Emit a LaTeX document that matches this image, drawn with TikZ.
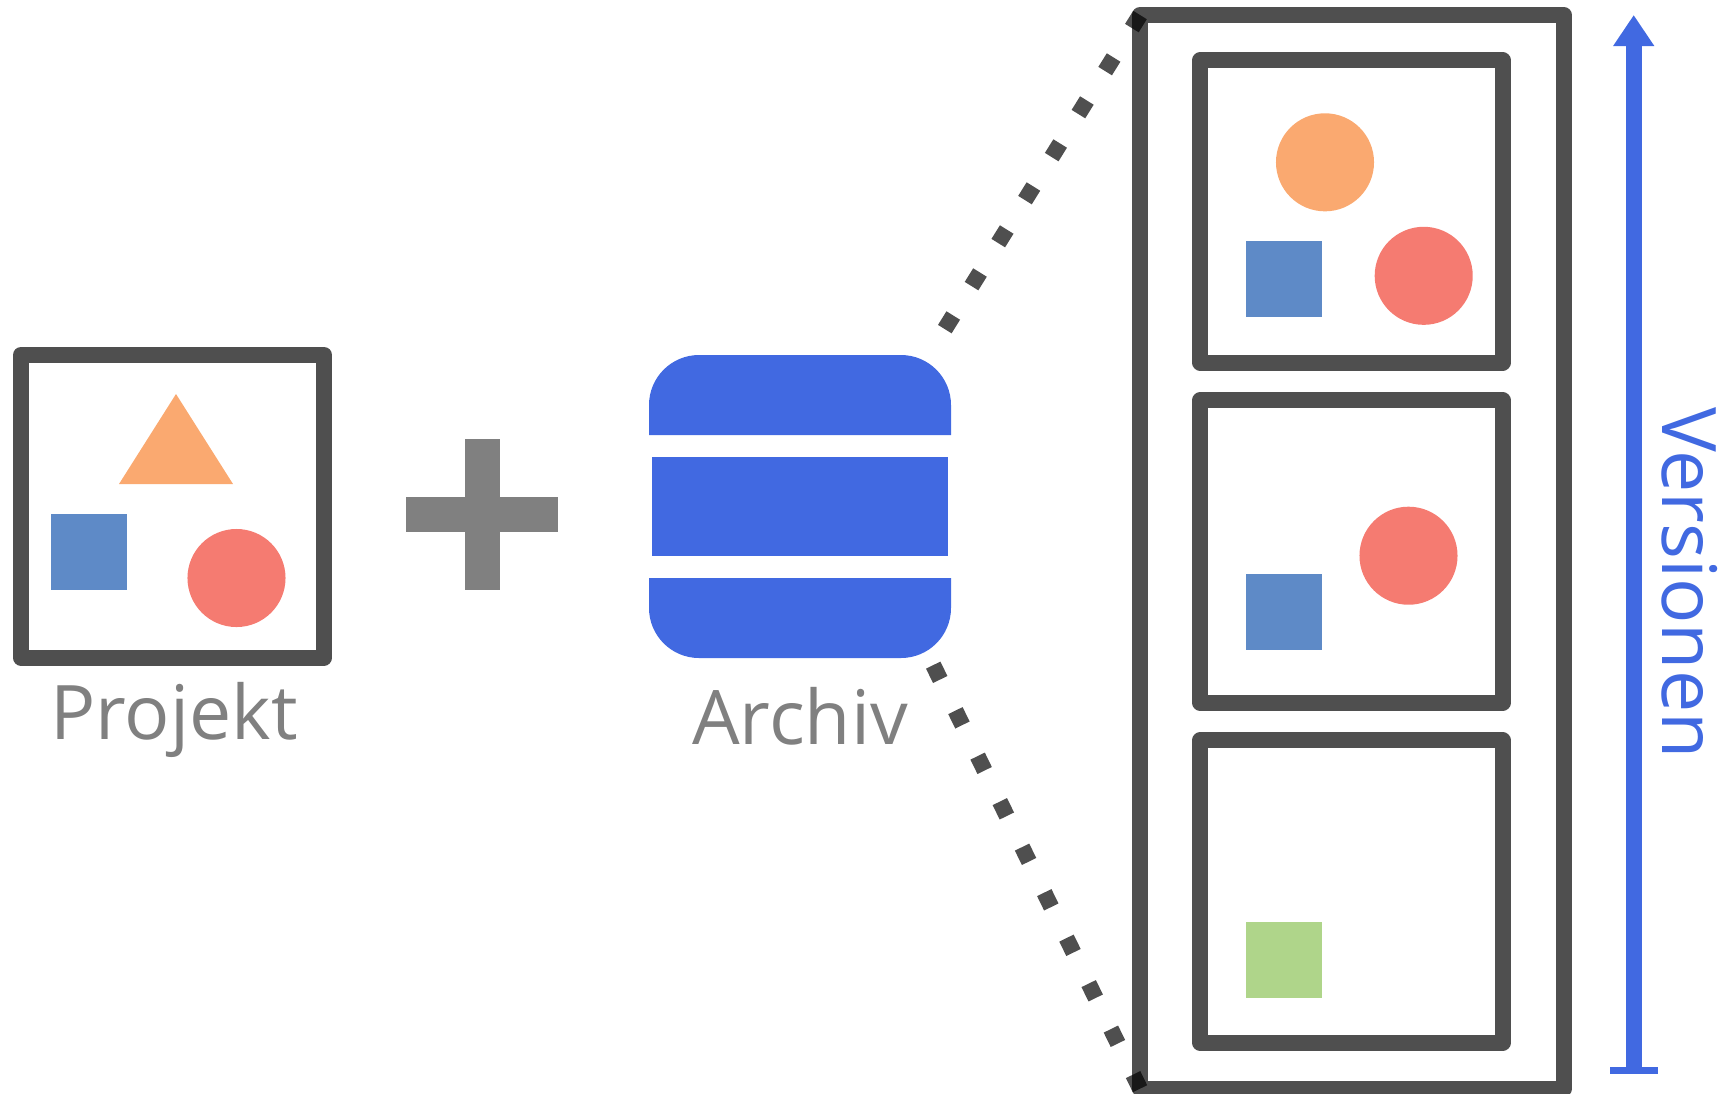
\documentclass[tikz,border=0pt]{standalone}
\usepackage{fontspec}
\usepackage{xcolor}
\usepackage{tikz}
\usetikzlibrary{arrows.meta}
\setmainfont{Open Sans}
\definecolor{archivblue}{HTML}{4169E1}
\definecolor{labelgray}{HTML}{808080}
\definecolor{shapeorange}{HTML}{FAA970}
\definecolor{shapeblue}{HTML}{5E8AC7}
\definecolor{shapered}{HTML}{F57B71}
\definecolor{shapegreen}{HTML}{AFD58A}
\tikzset{
  frame/.style={draw=black, draw opacity=.69, line width=.16cm, line join=round},
  dotline/.style={draw=black, draw opacity=.69, line width=.16cm, dash pattern=on .16cm off .346cm},
  label/.style={anchor=base, inner sep=0pt, font=\fontsize{21.4pt}{24pt}\selectfont},
}
\begin{document}
\begin{tikzpicture}[x=.01cm, y=-.01cm]
  \useasboundingbox (0,0) rectangle (1733,1093);
  % Projekt
  \draw[frame] (21,355) rectangle (324,657.5);
  \fill[shapeorange] (176,394) -- (233,484) -- (119,484) -- cycle;
  \fill[shapeblue] (51,514) rectangle (127,590);
  \fill[shapered] (236.5,578) circle (.49cm);
  \node[label, text=labelgray] (projekt) at (174,739) {Projekt};
  % plus
  \fill[labelgray] (406,497) rectangle (558,532);
  \fill[labelgray] (464.7,438.7) rectangle (500,590.3);
  % Archiv
  \fill[archivblue] (649,435) [rounded corners=.5cm] -- (649,355) -- (951,355) [sharp corners] -- (951,435) -- cycle;
  \fill[archivblue] (652,457) rectangle (948,556);
  \fill[archivblue] (649,578) [rounded corners=.5cm] -- (649,658) -- (951,658) [sharp corners] -- (951,578) -- cycle;
  \node[label, text=labelgray] (archiv) at (800,744) {Archiv};
  % Versionen
  \coordinate (archivtop) at (944.8,329.1);
  \coordinate (archivbot) at (933.2,665.1);
  \coordinate (boxtop) at (1140,15);
  \coordinate (boxbot) at (1140,1088.7);
  \draw[frame] (boxtop) rectangle (1563.7,1088.7);
  \draw[dotline] (archivtop) -- (boxtop);
  \draw[dotline] (archivbot) -- (boxbot);
  \draw[frame] (1200.3,60.3) rectangle (1502.5,362.5);
  \draw[frame] (1200.3,400.3) rectangle (1502.5,702.7);
  \draw[frame] (1200.3,740.3) rectangle (1502.5,1042.7);
  \fill[shapeorange] (1325,162.3) circle (.49cm);
  \fill[shapeblue] (1246,241.3) rectangle (1321.7,317.3);
  \fill[shapered] (1423.7,275.8) circle (.49cm);
  \fill[shapered] (1408.5,555.7) circle (.49cm);
  \fill[shapeblue] (1246,574.3) rectangle (1321.7,650.3);
  \fill[shapegreen] (1246,922.3) rectangle (1321.7,998);
  \coordinate (verbase) at (1633.7,1073.5);
  \coordinate (vertip) at (1633.7,15);
  \draw[archivblue, line width=.16cm, {Bar[width=.48cm,line width=.065cm]}-{Triangle[length=.31cm,width=.39cm]}] (verbase) -- (vertip);
  \node[label, text=archivblue, rotate=-90] (versionen) at (1662,583) {Versionen};
\end{tikzpicture}
\end{document}
